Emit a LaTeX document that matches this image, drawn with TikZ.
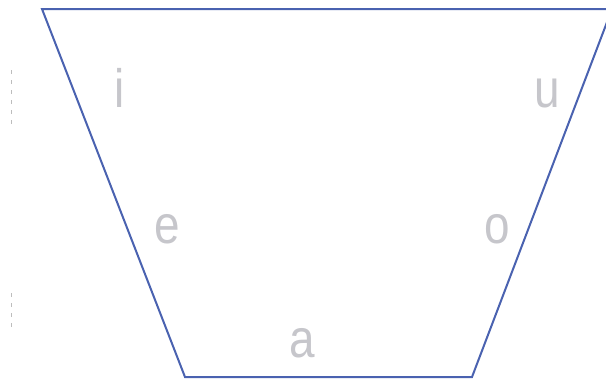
\documentclass[tikz,border=0pt]{standalone}
\usepackage{fontspec}
\setmainfont{Liberation Sans}
\definecolor{edge}{HTML}{4A62B0}
\definecolor{lbl}{HTML}{C6C6CB}
\definecolor{tick}{HTML}{BDBDBD}
\begin{document}
\begin{tikzpicture}[x=1pt,y=-1pt,
  vowel/.style={text=lbl,font=\fontsize{54}{54}\selectfont,inner sep=0pt,anchor=base,xscale=0.85},
  trap/.style={draw=edge,line width=2pt,line join=miter},
  tickline/.style={draw=tick,line width=1pt,dash pattern=on 4pt off 6pt}]
\useasboundingbox (0,0) rectangle (606,380);
\coordinate (tl) at (42,9);
\coordinate (tr) at (612,9);
\coordinate (br) at (472,377);
\coordinate (bl) at (185,377);
\begin{scope}
\clip (0,0) rectangle (606,380);
\draw[trap] (tl) -- (tr) -- (br) -- (bl) -- cycle;
\end{scope}
\node[vowel] (i) at (120,107) {i};
\node[vowel] (u) at (547,107) {u};
\node[vowel] (e) at (167,243) {e};
\node[vowel] (o) at (497,243) {o};
\node[vowel] (a) at (302,357) {a};
\coordinate (t1a) at (11,70);
\coordinate (t1b) at (11,128);
\coordinate (t2a) at (11,293);
\coordinate (t2b) at (11,330);
\draw[tickline] (t1a) -- (t1b);
\draw[tickline] (t2a) -- (t2b);
\end{tikzpicture}
\end{document}
